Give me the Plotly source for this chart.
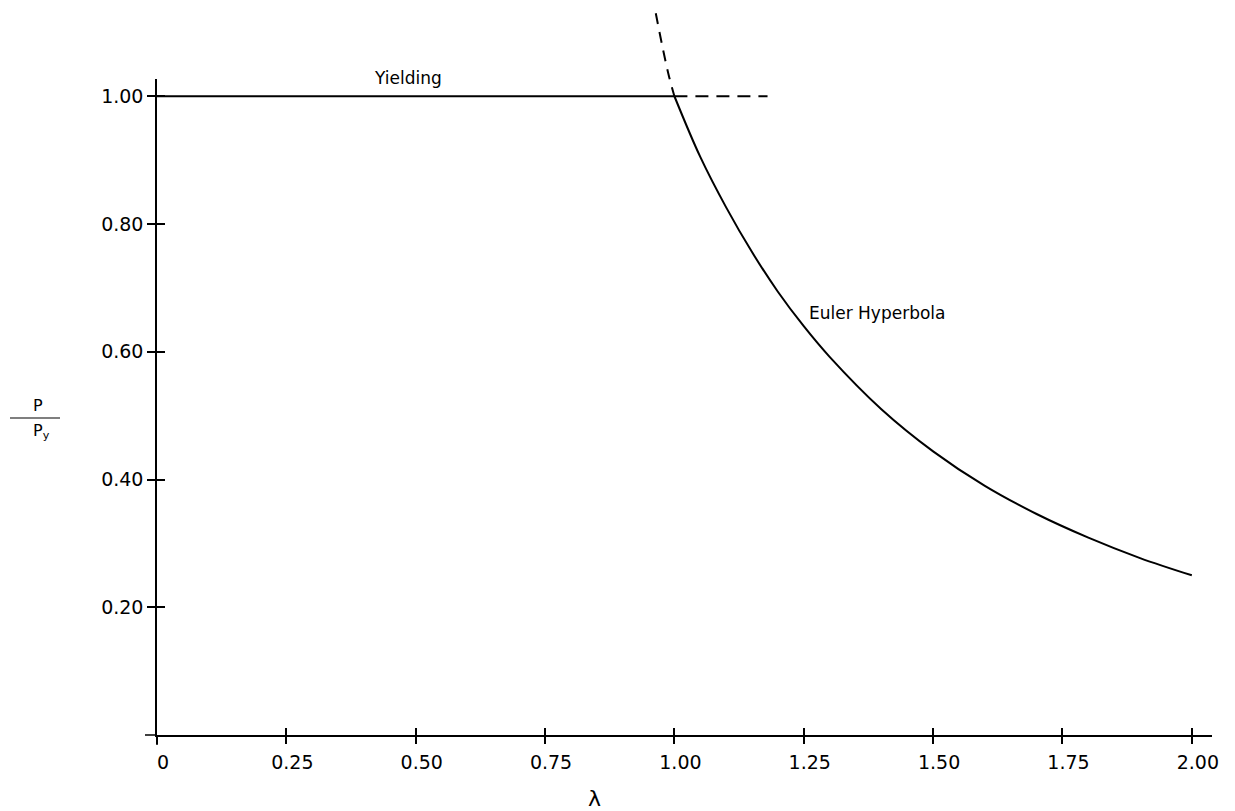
import plotly.graph_objects as go

# ---- data ----
yield_x = [0.0, 1.0]
yield_y = [1.0, 1.0]

euler_x = [1.00, 1.05, 1.10, 1.15, 1.20, 1.25, 1.30, 1.40, 1.50, 1.60, 1.70, 1.80, 1.90, 2.00]
euler_y = [1.00, 0.905, 0.826, 0.756, 0.694, 0.64, 0.592, 0.51, 0.444, 0.39, 0.346, 0.309, 0.277, 0.25]

ext_h_x = [1.0, 1.18]
ext_h_y = [1.0, 1.0]

ext_e_x = [0.964, 0.977, 0.989, 1.0]
ext_e_y = [1.13, 1.077, 1.033, 1.0]

x_ticks = [0, 0.25, 0.5, 0.75, 1.0, 1.25, 1.5, 1.75, 2.0]
x_ticklabels = ["0", "0.25", "0.50", "0.75", "1.00", "1.25", "1.50", "1.75", "2.00"]
y_ticks = [0.2, 0.4, 0.6, 0.8, 1.0]
y_ticklabels = ["0.20", "0.40", "0.60", "0.80", "1.00"]

# ---- geometry ----
W, H = 1235, 811
ML, MR, MT, MB = 157, 23, 5, 76
plot_w = W - ML - MR
plot_h = H - MT - MB
xmax = 2.039
ymax = 1.027
main_top_px = 79
y_dom_top = (H - MB - main_top_px) / plot_h
px_per_y = (H - MB - main_top_px) / ymax
y2max = plot_h / px_per_y

def px_x(px):
    return (px - ML) / plot_w

def px_y(py):
    return 1 - (py - MT) / plot_h

FONT = "DejaVu Sans"

fig = go.Figure()
fig.add_trace(go.Scatter(x=yield_x, y=yield_y, mode="lines", line=dict(color="black", width=2),
                         xaxis="x", yaxis="y", showlegend=False, hoverinfo="skip"))
fig.add_trace(go.Scatter(x=euler_x, y=euler_y, mode="lines",
                         line=dict(color="black", width=2, shape="spline"),
                         xaxis="x", yaxis="y", showlegend=False, hoverinfo="skip"))
fig.add_trace(go.Scatter(x=ext_h_x, y=ext_h_y, mode="lines",
                         line=dict(color="black", width=2, dash="13px,8px"),
                         xaxis="x2", yaxis="y2", showlegend=False, hoverinfo="skip"))
fig.add_trace(go.Scatter(x=ext_e_x, y=ext_e_y, mode="lines",
                         line=dict(color="black", width=2, dash="11px,8px", shape="spline"),
                         xaxis="x2", yaxis="y2", showlegend=False, hoverinfo="skip"))

tickfont = dict(family=FONT, size=19, color="black")

fig.update_layout(
    width=W, height=H,
    margin=dict(l=ML, r=MR, t=MT, b=MB),
    paper_bgcolor="white", plot_bgcolor="rgba(0,0,0,0)",
    xaxis=dict(domain=[0, 1], range=[0, xmax], anchor="y",
               showgrid=False, zeroline=False, showline=True, linecolor="black", linewidth=1.5,
               ticks="outside", ticklen=7, tickwidth=1.5, tickcolor="black",
               tickvals=x_ticks, ticktext=x_ticklabels, tickfont=tickfont,
               ticklabelstandoff=2, ticklabelshift=6),
    yaxis=dict(domain=[0, y_dom_top], range=[0, ymax], anchor="x",
               showgrid=False, zeroline=False, showline=True, linecolor="black", linewidth=1.5,
               ticks="outside", ticklen=8, tickwidth=1.5, tickcolor="black",
               tickvals=y_ticks, ticktext=y_ticklabels, tickfont=tickfont, ticklabelstandoff=0),
    # second (full-height) axis pair: carries the dashed extensions and the inner half of the ticks
    xaxis2=dict(domain=[0, 1], range=[0, xmax], anchor="y2",
                showgrid=False, zeroline=False, showline=False,
                ticks="inside", ticklen=7, tickwidth=1.5, tickcolor="black",
                tickvals=x_ticks, showticklabels=False),
    yaxis2=dict(domain=[0, 1], range=[0, y2max], anchor="x2",
                showgrid=False, zeroline=False, showline=False,
                ticks="inside", ticklen=8, tickwidth=1.5, tickcolor="black",
                tickvals=y_ticks, showticklabels=False),
)

# short axis-line stubs past the origin, as in the reference
fig.add_shape(type="line", xref="paper", yref="paper", x0=px_x(145), x1=0, y0=0, y1=0,
              line=dict(color="black", width=1.5))
fig.add_shape(type="line", xref="paper", yref="paper", x0=0, x1=0, y0=px_y(745), y1=0,
              line=dict(color="black", width=1.5))

fig.add_annotation(x=px_x(408), y=px_y(78), xref="paper", yref="paper", text="Yielding", showarrow=False,
                   xanchor="center", yanchor="middle", font=dict(family=FONT, size=17, color="black"))
fig.add_annotation(x=px_x(807), y=px_y(313), xref="paper", yref="paper", text="Euler Hyperbola",
                   showarrow=False, xanchor="left", yanchor="middle",
                   font=dict(family=FONT, size=17, color="black"))

# axis titles
fig.add_annotation(x=px_x(594), y=px_y(798), xref="paper", yref="paper", text="λ", showarrow=False,
                   xanchor="center", yanchor="middle", font=dict(family=FONT, size=22, color="black"))
fig.add_annotation(x=px_x(38), y=px_y(405), xref="paper", yref="paper", text="P", showarrow=False,
                   xanchor="center", yanchor="middle", font=dict(family=FONT, size=16, color="black"))
fig.add_annotation(x=px_x(41), y=px_y(431), xref="paper", yref="paper", text="P<sub>y</sub>",
                   showarrow=False, xanchor="center", yanchor="middle",
                   font=dict(family=FONT, size=16, color="black"))
fig.add_shape(type="line", xref="paper", yref="paper", x0=px_x(10), x1=px_x(60),
              y0=px_y(418), y1=px_y(418), line=dict(color="black", width=1.2))

fig.write_html("out.html")
